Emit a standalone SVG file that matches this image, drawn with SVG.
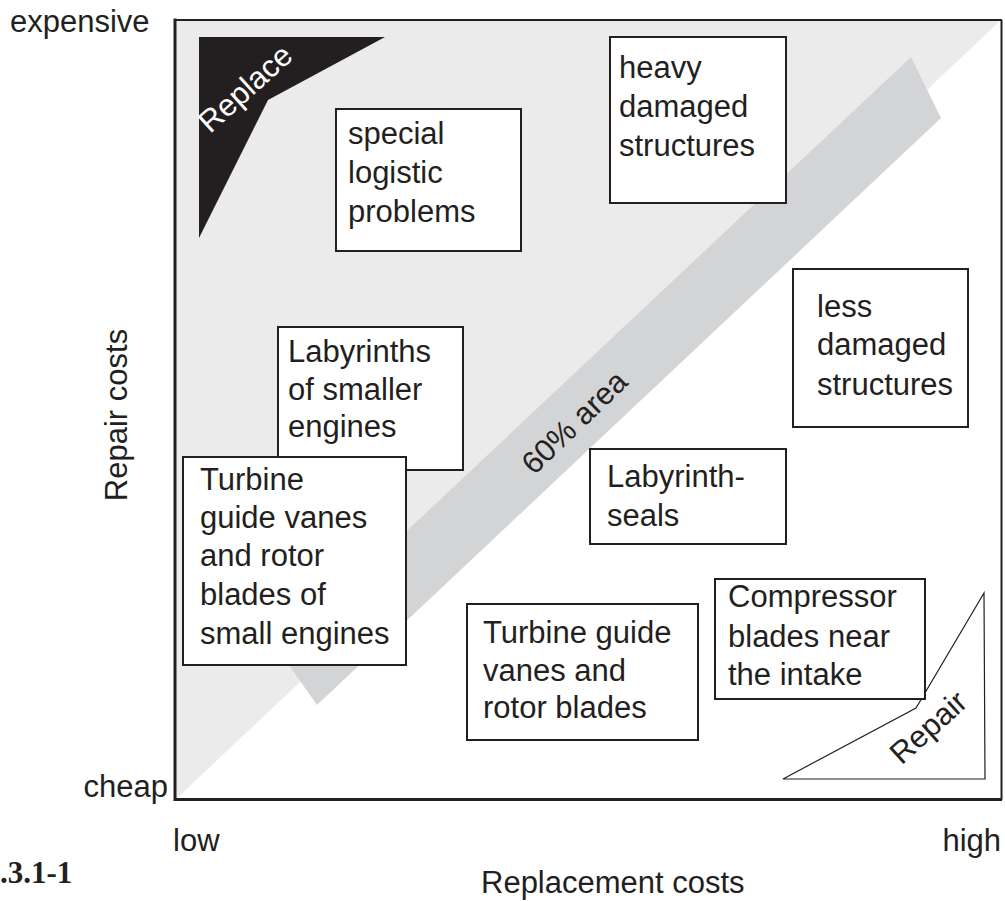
<svg xmlns="http://www.w3.org/2000/svg" width="1005" height="901" viewBox="0 0 1005 901">
<style>
.t{font-family:"Liberation Sans",Arial,sans-serif;font-size:31px;fill:#231f20}
.box{fill:#ffffff;stroke:#231f20;stroke-width:2}
.fr{stroke:#231f20;fill:none}
</style>
<rect x="0" y="0" width="1005" height="901" fill="#ffffff"/>
<g id="background">
<polygon points="175,20 1001,20 175,800" fill="#ebebeb"/>
<polygon id="band" points="911,57 941,118 317,705 279,651" fill="#d3d4d6"/>
</g>
<g id="frame">
<line class="fr" x1="175" y1="20" x2="1002" y2="20" stroke-width="2"/>
<line class="fr" x1="1001.5" y1="20" x2="1001.5" y2="800" stroke-width="2"/>
<line class="fr" x1="175" y1="18.5" x2="175" y2="801" stroke-width="3"/>
<line class="fr" x1="174" y1="799.5" x2="1002" y2="799.5" stroke-width="3"/>
</g>
<g id="replace">
<polygon points="199,37 385,37 268,100 199,238" fill="#231f20"/>
<text class="t" style="fill:#ffffff" text-anchor="middle" transform="translate(245,88) rotate(-42)" y="11">Replace</text>
</g>
<g id="repair">
<polygon points="984,593 916,708 783,779 985,779" fill="#ffffff" stroke="#231f20" stroke-width="1.2"/>
<text class="t" text-anchor="middle" transform="translate(928,727) rotate(-42)" y="11">Repair</text>
</g>
<g id="area60">
<text class="t" text-anchor="middle" transform="translate(574,422) rotate(-44)" y="11">60% area</text>
</g>
<g id="axes">
<text class="t" x="10" y="32">expensive</text>
<text class="t" x="168" y="797" text-anchor="end">cheap</text>
<text class="t" x="173" y="851">low</text>
<text class="t" x="1001" y="851" text-anchor="end">high</text>
<text class="t" x="481" y="893">Replacement costs</text>
<text class="t" text-anchor="middle" transform="translate(127,415) rotate(-90)">Repair costs</text>
<text x="0" y="883" style="font-family:'Liberation Serif','Times New Roman',serif;font-weight:bold;font-size:31px;fill:#231f20">.3.1-1</text>
</g>
<g id="n-special">
<rect class="box" x="336" y="109" width="185" height="142"/>
<text class="t" x="348" y="144">special</text>
<text class="t" x="348" y="183">logistic</text>
<text class="t" x="348" y="222">problems</text>
</g>
<g id="n-heavy">
<rect class="box" x="610" y="37" width="176" height="166"/>
<text class="t" x="619" y="78">heavy</text>
<text class="t" x="619" y="117">damaged</text>
<text class="t" x="619" y="156">structures</text>
</g>
<g id="n-less">
<rect class="box" x="793" y="269" width="175" height="158"/>
<text class="t" x="817" y="317">less</text>
<text class="t" x="817" y="355">damaged</text>
<text class="t" x="817" y="395">structures</text>
</g>
<g id="n-labyrinths">
<rect class="box" x="278" y="327" width="185" height="143"/>
<text class="t" x="288" y="362">Labyrinths</text>
<text class="t" x="288" y="400">of smaller</text>
<text class="t" x="288" y="437">engines</text>
</g>
<g id="n-small">
<rect class="box" x="183" y="457" width="223" height="208"/>
<text class="t" x="200" y="490">Turbine</text>
<text class="t" x="200" y="528">guide vanes</text>
<text class="t" x="200" y="566">and rotor</text>
<text class="t" x="200" y="605">blades of</text>
<text class="t" x="200" y="644">small engines</text>
</g>
<g id="n-seals">
<rect class="box" x="590" y="449" width="196" height="95"/>
<text class="t" x="607" y="487">Labyrinth-</text>
<text class="t" x="607" y="526">seals</text>
</g>
<g id="n-turbine">
<rect class="box" x="467" y="604" width="231" height="136"/>
<text class="t" x="483" y="643">Turbine guide</text>
<text class="t" x="483" y="681">vanes and</text>
<text class="t" x="483" y="718">rotor blades</text>
</g>
<g id="n-compressor">
<rect class="box" x="715" y="579" width="210" height="120"/>
<text class="t" x="728" y="607">Compressor</text>
<text class="t" x="728" y="647">blades near</text>
<text class="t" x="728" y="685">the intake</text>
</g>
<g id="connectors"></g>
</svg>
